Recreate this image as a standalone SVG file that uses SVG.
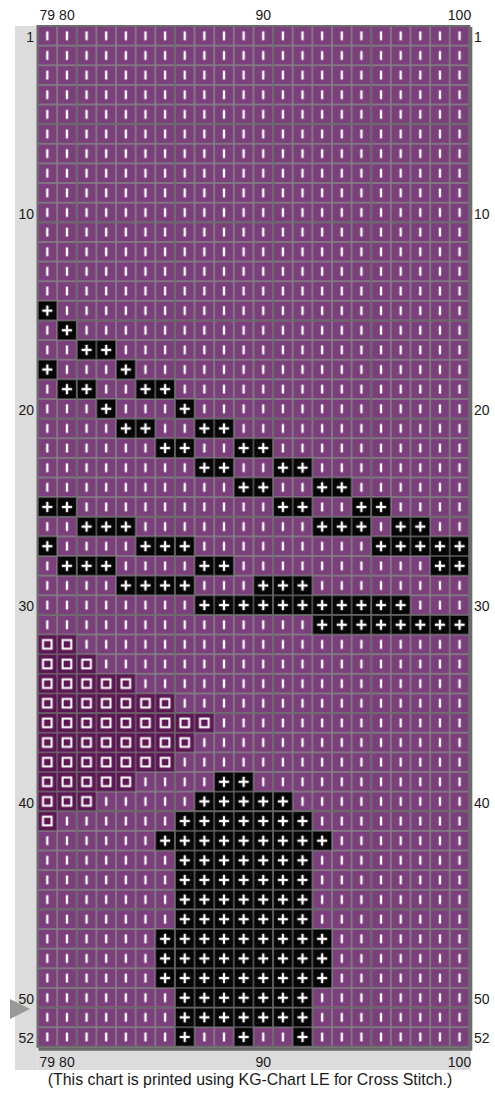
<svg xmlns="http://www.w3.org/2000/svg" width="495" height="1093" viewBox="0 0 495 1093">
<style>
.lbl{font-family:"Liberation Sans",Arial,sans-serif;font-size:14px;fill:#1a1a1a}
.r{text-anchor:end}
.c{text-anchor:middle}
.pl{fill:url(#pp)}
.sq{fill:url(#ps)}
</style>
<defs>
<pattern id="pi" patternUnits="userSpaceOnUse" x="0" y="0" width="20" height="20">
<rect width="20" height="20" fill="#828282"/>
<rect x="0.8" y="0.8" width="18.4" height="18.4" fill="#7b3f7b"/>
<rect x="8.8" y="5.5" width="2.4" height="9" fill="#fff"/>
</pattern>
<pattern id="pp" patternUnits="userSpaceOnUse" x="0" y="0" width="20" height="20">
<rect width="20" height="20" fill="#5a5a5a"/>
<rect x="0.8" y="0.8" width="18.4" height="18.4" fill="#060606"/>
<rect x="8.8" y="4.8" width="2.4" height="10.4" fill="#fff"/>
<rect x="4.8" y="8.8" width="10.4" height="2.4" fill="#fff"/>
</pattern>
<pattern id="ps" patternUnits="userSpaceOnUse" x="0" y="0" width="20" height="20">
<rect width="20" height="20" fill="#6e5a6c"/>
<rect x="0.8" y="0.8" width="18.4" height="18.4" fill="#5c1652"/>
<rect x="5.6" y="5.6" width="8.8" height="8.8" fill="none" stroke="#fff" stroke-width="2.1"/>
</pattern>
</defs>
<g id="frame">
<rect x="15" y="26" width="22.5" height="1044" fill="#dcdcdc"/>
<rect x="37.5" y="1047" width="433" height="23" fill="#dcdcdc"/>
<polygon points="10,999 30,1009 10,1019" fill="#999"/>
</g>
<g id="chart" transform="translate(37.5 26) scale(0.98155)">
<rect x="0" y="0" width="440" height="1040" fill="url(#pi)"/>
<g id="plus">
<rect class="pl" x="0" y="280" width="20" height="20"/>
<rect class="pl" x="20" y="300" width="20" height="20"/>
<rect class="pl" x="40" y="320" width="40" height="20"/>
<rect class="pl" x="0" y="340" width="20" height="20"/>
<rect class="pl" x="80" y="340" width="20" height="20"/>
<rect class="pl" x="20" y="360" width="40" height="20"/>
<rect class="pl" x="100" y="360" width="40" height="20"/>
<rect class="pl" x="60" y="380" width="20" height="20"/>
<rect class="pl" x="140" y="380" width="20" height="20"/>
<rect class="pl" x="80" y="400" width="40" height="20"/>
<rect class="pl" x="160" y="400" width="40" height="20"/>
<rect class="pl" x="120" y="420" width="40" height="20"/>
<rect class="pl" x="200" y="420" width="40" height="20"/>
<rect class="pl" x="160" y="440" width="40" height="20"/>
<rect class="pl" x="240" y="440" width="40" height="20"/>
<rect class="pl" x="200" y="460" width="40" height="20"/>
<rect class="pl" x="280" y="460" width="40" height="20"/>
<rect class="pl" x="0" y="480" width="40" height="20"/>
<rect class="pl" x="240" y="480" width="40" height="20"/>
<rect class="pl" x="320" y="480" width="40" height="20"/>
<rect class="pl" x="40" y="500" width="60" height="20"/>
<rect class="pl" x="280" y="500" width="60" height="20"/>
<rect class="pl" x="360" y="500" width="40" height="20"/>
<rect class="pl" x="0" y="520" width="20" height="20"/>
<rect class="pl" x="100" y="520" width="60" height="20"/>
<rect class="pl" x="340" y="520" width="100" height="20"/>
<rect class="pl" x="20" y="540" width="60" height="20"/>
<rect class="pl" x="160" y="540" width="40" height="20"/>
<rect class="pl" x="400" y="540" width="40" height="20"/>
<rect class="pl" x="80" y="560" width="80" height="20"/>
<rect class="pl" x="220" y="560" width="60" height="20"/>
<rect class="pl" x="160" y="580" width="220" height="20"/>
<rect class="pl" x="280" y="600" width="160" height="20"/>
<rect class="pl" x="180" y="760" width="40" height="20"/>
<rect class="pl" x="160" y="780" width="100" height="20"/>
<rect class="pl" x="140" y="800" width="140" height="20"/>
<rect class="pl" x="120" y="820" width="180" height="20"/>
<rect class="pl" x="140" y="840" width="140" height="80"/>
<rect class="pl" x="120" y="920" width="180" height="60"/>
<rect class="pl" x="140" y="980" width="140" height="40"/>
<rect class="pl" x="140" y="1020" width="20" height="20"/>
<rect class="pl" x="200" y="1020" width="20" height="20"/>
<rect class="pl" x="260" y="1020" width="20" height="20"/>
</g>
<g id="squares">
<rect class="sq" x="0" y="620" width="40" height="20"/>
<rect class="sq" x="0" y="640" width="60" height="20"/>
<rect class="sq" x="0" y="660" width="100" height="20"/>
<rect class="sq" x="0" y="680" width="140" height="20"/>
<rect class="sq" x="0" y="700" width="180" height="20"/>
<rect class="sq" x="0" y="720" width="160" height="20"/>
<rect class="sq" x="0" y="740" width="140" height="20"/>
<rect class="sq" x="0" y="760" width="100" height="20"/>
<rect class="sq" x="0" y="780" width="60" height="20"/>
<rect class="sq" x="0" y="800" width="20" height="20"/>
</g>
<path id="major" d="M40 0V1040M140 0V1040M240 0V1040M340 0V1040M0 100H440M0 200H440M0 300H440M0 400H440M0 500H440M0 600H440M0 700H440M0 800H440M0 900H440M0 1000H440" stroke="#666" stroke-width="1.3" fill="none"/>
<rect x="0" y="0" width="440" height="1040" fill="none" stroke="#6a6a6a" stroke-width="2"/>
<path d="M441.5 1V1042.5H1" fill="none" stroke="#6a6a6a" stroke-width="3"/>
</g>
<g id="labels">
<text class="lbl c" x="47.3" y="19.5">79</text>
<text class="lbl c" x="66.9" y="19.5">80</text>
<text class="lbl c" x="263.2" y="19.5">90</text>
<text class="lbl c" x="459.5" y="19.5">100</text>
<text class="lbl c" x="47.3" y="1067">79</text>
<text class="lbl c" x="66.9" y="1067">80</text>
<text class="lbl c" x="263.2" y="1067">90</text>
<text class="lbl c" x="459.5" y="1067">100</text>
<text class="lbl r" x="34" y="42">1</text>
<text class="lbl r" x="34" y="218.5">10</text>
<text class="lbl r" x="34" y="414.8">20</text>
<text class="lbl r" x="34" y="611.1">30</text>
<text class="lbl r" x="34" y="807.5">40</text>
<text class="lbl r" x="34" y="1003.8">50</text>
<text class="lbl r" x="34" y="1043">52</text>
<text class="lbl" x="474" y="42">1</text>
<text class="lbl" x="474" y="218.5">10</text>
<text class="lbl" x="474" y="414.8">20</text>
<text class="lbl" x="474" y="611.1">30</text>
<text class="lbl" x="474" y="807.5">40</text>
<text class="lbl" x="474" y="1003.8">50</text>
<text class="lbl" x="474" y="1043">52</text>
<text class="lbl c" x="250" y="1085" style="font-size:15.9px">(This chart is printed using KG-Chart LE for Cross Stitch.)</text>
</g>
</svg>
